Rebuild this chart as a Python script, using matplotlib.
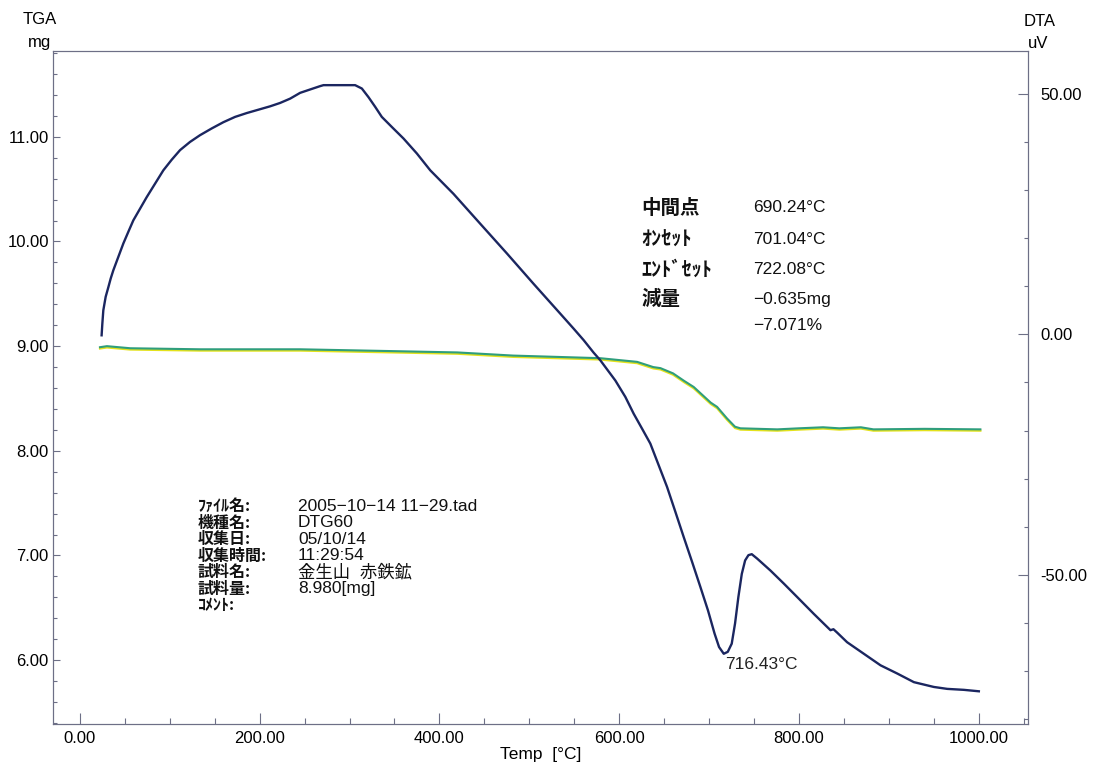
import numpy as np
import matplotlib
matplotlib.use('Agg')
import matplotlib.pyplot as plt
import matplotlib.transforms as mtransforms
from matplotlib.ticker import MultipleLocator, FormatStrFormatter

plt.rcParams['font.family'] = ['Liberation Sans', 'Noto Sans CJK JP']

# DTA signal (uV) vs temperature (C)
dta_temp = [24.1, 24.9, 26.0, 28.6, 31.6, 34.2, 37.1, 42.7, 48.3, 53.8, 59.4,
            66.8, 74.2, 83.5, 92.8, 102.1, 111.4, 122.5, 133.6, 146.6, 159.6,
            172.6, 185.6, 198.6, 211.6, 222.7, 233.9, 245.0, 256.1, 267.3, 271.0,
            306.2, 313.7, 321.1, 328.5, 335.9, 347.1, 360.1, 374.9, 389.8, 415.7,
            445.4, 475.2, 504.8, 534.5, 549.3, 560.5, 571.6, 579.1, 595.8, 606.9,
            616.2, 625.5, 634.7, 644.0, 653.3, 662.6, 671.8, 681.2, 690.4, 698.9,
            706.2, 711.2, 716.43, 720.9, 725.3, 729.0, 732.7, 736.5, 740.2, 743.9,
            747.6, 753.5, 768.4, 783.2, 798.1, 816.6, 835.2, 838.5, 842.6, 853.7,
            872.3, 890.9, 909.4, 928.0, 950.2, 965.1, 983.6, 1000.3]
dta_uv = [-0.2, 2.2, 5.0, 7.8, 9.8, 11.6, 13.3, 16.1, 18.9, 21.3, 23.7,
          26.1, 28.5, 31.3, 34.1, 36.3, 38.3, 40.0, 41.4, 42.8, 44.1,
          45.2, 46.0, 46.7, 47.4, 48.1, 49.0, 50.2, 50.9, 51.6, 51.8,
          51.8, 51.1, 49.3, 47.3, 45.2, 43.1, 40.7, 37.6, 34.1, 29.2,
          23.0, 16.8, 10.5, 4.3, 1.2, -1.2, -3.8, -5.4, -9.6, -13.0,
          -16.5, -19.6, -22.7, -27.2, -31.7, -36.9, -42.1, -47.3, -52.5, -57.4,
          -62.2, -65.0, -66.4, -66.0, -64.3, -60.1, -54.6, -49.8, -47.0, -45.9,
          -45.7, -46.6, -49.1, -51.8, -54.6, -58.1, -61.5, -61.3, -62.0, -64.0,
          -66.4, -68.8, -70.5, -72.3, -73.3, -73.7, -73.9, -74.2]

# TGA weight (mg) vs temperature (C)
tga_temp = [22.3, 30.0, 56.0, 134.0, 245.0, 334.0, 420.0, 482.0, 579.0, 620.0,
            638.0, 646.0, 660.0, 672.0, 683.0, 702.0, 709.0, 720.0, 729.0, 735.0,
            776.0, 800.0, 827.0, 845.0, 869.0, 883.0, 940.0, 1002.0]
tga_mg = [8.99, 9.00, 8.98, 8.97, 8.97, 8.955, 8.94, 8.91, 8.885, 8.85,
          8.80, 8.79, 8.74, 8.67, 8.61, 8.46, 8.42, 8.31, 8.23, 8.215,
          8.205, 8.215, 8.225, 8.215, 8.225, 8.205, 8.21, 8.205]

peak_temp = 716.43
info_labels = ['中間点', 'ｵﾝｾｯﾄ', 'ｴﾝﾄﾞｾｯﾄ', '減量', '']
info_values = ['690.24°C', '701.04°C', '722.08°C', '−0.635mg', '−7.071%']
meta_labels = ['ﾌｧｲﾙ名:', '機種名:', '収集日:', '収集時間:', '試料名:', '試料量:', 'ｺﾒﾝﾄ:']
meta_values = ['2005−10−14 11−29.tad', 'DTG60', '05/10/14', '11:29:54',
               '金生山  赤鉄鉱', '8.980[mg]', '']

W, H = 1098, 767
fig = plt.figure(figsize=(W / 100, H / 100), dpi=100)
ax = fig.add_axes([53 / W, 1 - 724 / H, (1028 - 53) / W, (724 - 51) / H])
ax2 = ax.twinx()

spine_col = '#6d6f86'
for a in (ax, ax2):
    for s in a.spines.values():
        s.set_color(spine_col)
        s.set_linewidth(0.8)

ax.set_xlim(-30, 1055)
ax.set_ylim(5.39, 11.82)
ax2.set_ylim(-81.0, 58.9)

ax.xaxis.set_major_locator(MultipleLocator(200))
ax.xaxis.set_minor_locator(MultipleLocator(50))
ax.xaxis.set_major_formatter(FormatStrFormatter('%.2f'))
ax.yaxis.set_major_locator(MultipleLocator(1))
ax.yaxis.set_minor_locator(MultipleLocator(0.2))
ax.yaxis.set_major_formatter(FormatStrFormatter('%.2f'))
ax2.yaxis.set_major_locator(MultipleLocator(50))
ax2.yaxis.set_minor_locator(MultipleLocator(10))
ax2.yaxis.set_major_formatter(FormatStrFormatter('%.2f'))

ax.tick_params(axis='x', which='major', direction='in', length=8, width=0.8,
               color=spine_col, labelsize=12, pad=5)
ax.tick_params(axis='x', which='minor', direction='in', length=4, width=0.8, color=spine_col)
ax.tick_params(axis='y', which='major', direction='in', length=5, width=0.8,
               color=spine_col, labelsize=12, pad=3)
ax.tick_params(axis='y', which='minor', direction='in', length=3, width=0.8, color=spine_col)
ax2.tick_params(axis='y', which='major', direction='in', length=7, width=0.8,
                color=spine_col, labelsize=12, pad=9)
ax2.tick_params(axis='y', which='minor', direction='in', length=3, width=0.8, color=spine_col)

# TGA trace: yellow fringe slightly below a green line
shift = mtransforms.offset_copy(ax.transData, fig=fig, x=0, y=-1.3, units='dots')
ax.plot(tga_temp, tga_mg, color='#e4e21c', lw=1.6, transform=shift, solid_joinstyle='round')
ax.plot(tga_temp, tga_mg, color='#2f9e7c', lw=1.5, solid_joinstyle='round')

# DTA trace
ax2.plot(dta_temp, dta_uv, color='#1b2660', lw=1.7, solid_joinstyle='round')
peak_uv = dta_uv[dta_temp.index(peak_temp)]
ax2.annotate('%.2f°C' % peak_temp, xy=(peak_temp, peak_uv), xytext=(1, -2),
             textcoords='offset points', ha='left', va='top', fontsize=12.5, color='#222222')

ax.set_xlabel('Temp  [°C]', fontsize=12.5, labelpad=1)
fig.text(40 / W, 1 - 19 / H, 'TGA', ha='center', va='center', fontsize=12)
fig.text(40 / W, 1 - 42 / H, 'mg', ha='center', va='center', fontsize=12)
fig.text(1040 / W, 1 - 21 / H, 'DTA', ha='center', va='center', fontsize=12)
fig.text(1038 / W, 1 - 44 / H, 'uV', ha='center', va='center', fontsize=12)

# result block
info_y = [208, 239, 269, 299, 325]
info_size = [14, 14.5, 14.5, 14, 14]
for lab, val, y, fs in zip(info_labels, info_values, info_y, info_size):
    if lab:
        fig.text(641 / W, 1 - y / H, lab, ha='left', va='center', fontsize=fs,
                 fontweight='bold', family=['Noto Sans CJK JP'], color='#111111')
    fig.text(753 / W, 1 - y / H, val, ha='left', va='center', fontsize=12.5, color='#111111')

# measurement details
meta_y = [506, 522.5, 539, 555.5, 572, 588.5, 605]
for lab, val, y in zip(meta_labels, meta_values, meta_y):
    fig.text(198 / W, 1 - y / H, lab, ha='left', va='center', fontsize=11.5,
             fontweight='bold', family=['Noto Sans CJK JP'], color='#111111')
    if val:
        fig.text(298 / W, 1 - y / H, val, ha='left', va='center', fontsize=12.5,
                 family=['Liberation Sans', 'Noto Sans CJK JP'], color='#111111')

fig.savefig('out.png', dpi=100)
